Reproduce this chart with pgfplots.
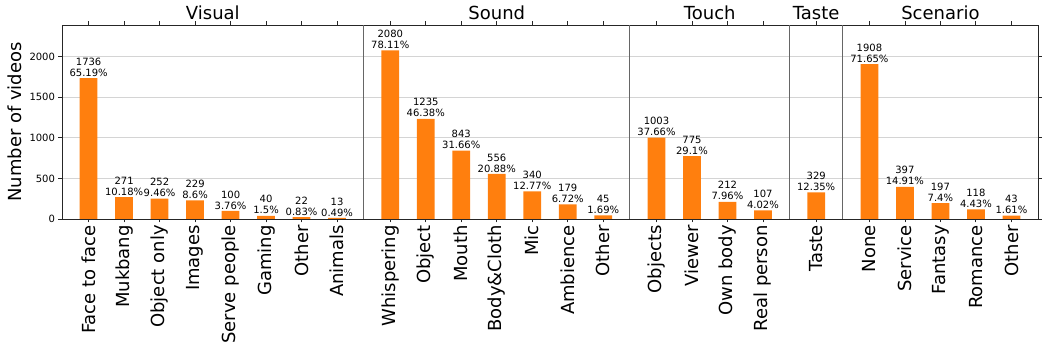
\documentclass[border=0pt]{standalone}
\usepackage{fontspec}
\setmainfont{DejaVu Sans}
\usepackage{pgfplots}
\usepackage{pgfplotstable}
\pgfplotsset{compat=1.18}
\definecolor{barorange}{HTML}{FF7F0E}
\definecolor{gridgray}{HTML}{D4D4D4}
\definecolor{sepgray}{HTML}{666666}

\pgfplotstableread{
x y lab
0 1736 1736\\65.19\%
1 271 271\\10.18\%
2 252 252\\9.46\%
3 229 229\\8.6\%
4 100 100\\3.76\%
5 40 40\\1.5\%
6 22 22\\0.83\%
7 13 13\\0.49\%
8.5 2080 2080\\78.11\%
9.5 1235 1235\\46.38\%
10.5 843 843\\31.66\%
11.5 556 556\\20.88\%
12.5 340 340\\12.77\%
13.5 179 179\\6.72\%
14.5 45 45\\1.69\%
16 1003 1003\\37.66\%
17 775 775\\29.1\%
18 212 212\\7.96\%
19 107 107\\4.02\%
20.5 329 329\\12.35\%
22 1908 1908\\71.65\%
23 397 397\\14.91\%
24 197 197\\7.4\%
25 118 118\\4.43\%
26 43 43\\1.61\%
}\data

\begin{document}
\begin{tikzpicture}
\useasboundingbox (-62pt,-133pt) rectangle (983pt,219pt);
\begin{axis}[
  at={(0pt,0pt)}, anchor=south west,
  scale only axis, width=976pt, height=194pt,
  xmin=-0.75, xmax=26.75, ymin=0, ymax=2392,
  clip=false,
  axis line style={black!85, line width=0.8pt},
  tick style={black!85, line width=0.8pt},
  tick align=outside, major tick length=3.5pt,
  xtick={0,1,2,3,4,5,6,7,8.5,9.5,10.5,11.5,12.5,13.5,14.5,16,17,18,19,20.5,22,23,24,25,26},
  xticklabels={Face to face,Mukbang,Object only,Images,Serve people,Gaming,Other,Animals,Whispering,Object,Mouth,Body\&Cloth,Mic,Ambience,Other,Objects,Viewer,Own body,Real person,Taste,None,Service,Fantasy,Romance,Other},
  xticklabel style={rotate=90, anchor=east, font=\fontsize{18}{20}\selectfont, inner sep=2.5pt},
  ytick={0,500,1000,1500,2000},
  yticklabel style={font=\fontsize{10}{12}\selectfont},
  /pgf/number format/assume math mode=true,
  /pgf/number format/set thousands separator={},
  ymajorgrids, grid style={gridgray, line width=0.8pt},
  ylabel={Number of videos},
  ylabel style={at={(axis description cs:-0.048,0.5)}, anchor=center, font=\fontsize{18}{20}\selectfont},
]
\addplot[ybar, bar width=0.5, fill=barorange, draw=none,
  point meta=explicit symbolic,
  nodes near coords,
  nodes near coords style={align=center, font=\fontsize{10}{11}\selectfont, inner sep=1.5pt, anchor=south},
] table[x=x, y=y, meta=lab] {\data};
\foreach \s in {7.75,15.25,19.75,21.25}{
  \edef\temp{\noexpand\draw[sepgray, line width=0.8pt] (axis cs:\s,0) -- (axis cs:\s,2392);}
  \temp
}
\node[anchor=base, font=\fontsize{18}{20}\selectfont, yshift=5pt] at (axis cs:3.5,2392) {Visual};
\node[anchor=base, font=\fontsize{18}{20}\selectfont, yshift=5pt] at (axis cs:11.5,2392) {Sound};
\node[anchor=base, font=\fontsize{18}{20}\selectfont, yshift=5pt] at (axis cs:17.5,2392) {Touch};
\node[anchor=base, font=\fontsize{18}{20}\selectfont, yshift=5pt] at (axis cs:20.5,2392) {Taste};
\node[anchor=base, font=\fontsize{18}{20}\selectfont, yshift=5pt] at (axis cs:24,2392) {Scenario};
\end{axis}
\end{tikzpicture}
\end{document}
